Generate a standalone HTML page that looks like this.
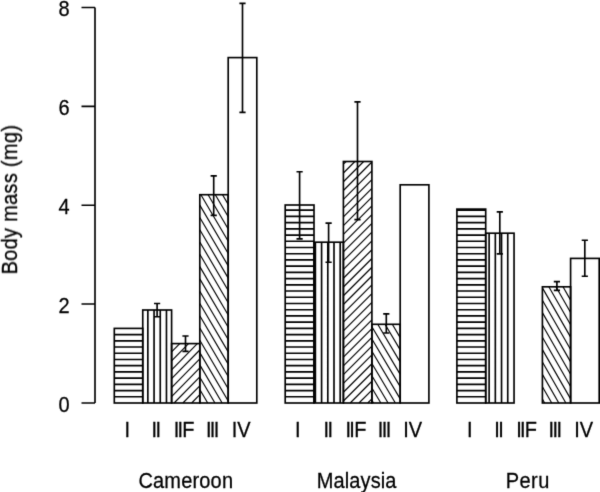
<!DOCTYPE html><html><head><meta charset="utf-8"><style>html,body{margin:0;padding:0;background:#fff;}svg{display:block;filter:grayscale(1);}text{font-family:"Liberation Sans",sans-serif;fill:#000;stroke:#000;stroke-width:0.25;}</style></head><body>
<svg width="600" height="492" viewBox="0 0 600 492">
<defs><filter id="bl" x="0" y="0" width="600" height="492" filterUnits="userSpaceOnUse" color-interpolation-filters="sRGB"><feConvolveMatrix order="3" kernelMatrix="0.01134 0.08382 0.01134 0.08382 0.61935 0.08382 0.01134 0.08382 0.01134" edgeMode="duplicate" preserveAlpha="false"/></filter></defs>
<rect width="600" height="492" fill="#fff"/>
<g filter="url(#bl)">
<path d="M114.30 396.78L142.75 396.78M114.30 390.56L142.75 390.56M114.30 384.34L142.75 384.34M114.30 378.12L142.75 378.12M114.30 371.90L142.75 371.90M114.30 365.68L142.75 365.68M114.30 359.46L142.75 359.46M114.30 353.24L142.75 353.24M114.30 347.02L142.75 347.02M114.30 340.80L142.75 340.80M114.30 334.58L142.75 334.58M147.85 310.00L147.85 403.00M154.06 310.00L154.06 403.00M160.26 310.00L160.26 403.00M166.47 310.00L166.47 403.00M285.20 396.78L314.00 396.78M285.20 390.56L314.00 390.56M285.20 384.34L314.00 384.34M285.20 378.12L314.00 378.12M285.20 371.90L314.00 371.90M285.20 365.68L314.00 365.68M285.20 359.46L314.00 359.46M285.20 353.24L314.00 353.24M285.20 347.02L314.00 347.02M285.20 340.80L314.00 340.80M285.20 334.58L314.00 334.58M285.20 328.36L314.00 328.36M285.20 322.14L314.00 322.14M285.20 315.92L314.00 315.92M285.20 309.70L314.00 309.70M285.20 303.48L314.00 303.48M285.20 297.26L314.00 297.26M285.20 291.04L314.00 291.04M285.20 284.82L314.00 284.82M285.20 278.60L314.00 278.60M285.20 272.38L314.00 272.38M285.20 266.16L314.00 266.16M285.20 259.94L314.00 259.94M285.20 253.72L314.00 253.72M285.20 247.50L314.00 247.50M285.20 241.28L314.00 241.28M285.20 235.06L314.00 235.06M285.20 228.84L314.00 228.84M285.20 222.62L314.00 222.62M285.20 216.40L314.00 216.40M285.20 210.18L314.00 210.18M315.38 242.20L315.38 403.00M321.59 242.20L321.59 403.00M327.80 242.20L327.80 403.00M334.00 242.20L334.00 403.00M340.20 242.20L340.20 403.00M456.90 396.78L485.70 396.78M456.90 390.56L485.70 390.56M456.90 384.34L485.70 384.34M456.90 378.12L485.70 378.12M456.90 371.90L485.70 371.90M456.90 365.68L485.70 365.68M456.90 359.46L485.70 359.46M456.90 353.24L485.70 353.24M456.90 347.02L485.70 347.02M456.90 340.80L485.70 340.80M456.90 334.58L485.70 334.58M456.90 328.36L485.70 328.36M456.90 322.14L485.70 322.14M456.90 315.92L485.70 315.92M456.90 309.70L485.70 309.70M456.90 303.48L485.70 303.48M456.90 297.26L485.70 297.26M456.90 291.04L485.70 291.04M456.90 284.82L485.70 284.82M456.90 278.60L485.70 278.60M456.90 272.38L485.70 272.38M456.90 266.16L485.70 266.16M456.90 259.94L485.70 259.94M456.90 253.72L485.70 253.72M456.90 247.50L485.70 247.50M456.90 241.28L485.70 241.28M456.90 235.06L485.70 235.06M456.90 228.84L485.70 228.84M456.90 222.62L485.70 222.62M456.90 216.40L485.70 216.40M456.90 210.18L485.70 210.18M489.12 233.20L489.12 403.00M495.33 233.20L495.33 403.00M501.54 233.20L501.54 403.00M507.74 233.20L507.74 403.00" stroke="#000" stroke-width="1.65" fill="none"/>
<path d="M171.60 351.90L179.76 343.60M171.60 360.84L188.54 343.60M171.60 369.78L197.33 343.60M171.60 378.72L199.80 350.02M171.60 387.66L199.80 358.96M171.60 396.60L199.80 367.90M174.10 403.00L199.80 376.84M182.88 403.00L199.80 385.78M191.67 403.00L199.80 394.72M222.52 194.70L228.20 204.39M215.31 194.70L228.20 216.68M208.10 194.70L228.20 228.97M200.89 194.70L228.20 241.26M199.80 205.14L228.20 253.55M199.80 217.43L228.20 265.84M199.80 229.72L228.20 278.13M199.80 242.01L228.20 290.42M199.80 254.30L228.20 302.71M199.80 266.59L228.20 315.00M199.80 278.88L228.20 327.29M199.80 291.17L228.20 339.58M199.80 303.46L228.20 351.87M199.80 315.75L228.20 364.16M199.80 328.04L228.20 376.45M199.80 340.33L228.20 388.74M199.80 352.62L228.20 401.03M199.80 364.91L222.15 403.00M199.80 377.20L214.94 403.00M199.80 389.49L207.73 403.00M199.80 401.78L200.52 403.00M343.40 164.21L346.11 161.50M343.40 172.98L354.88 161.50M343.40 181.75L363.65 161.50M343.40 190.52L371.90 162.02M343.40 199.29L371.90 170.79M343.40 208.06L371.90 179.56M343.40 216.83L371.90 188.33M343.40 225.60L371.90 197.10M343.40 234.37L371.90 205.87M343.40 243.14L371.90 214.64M343.40 251.91L371.90 223.41M343.40 260.68L371.90 232.18M343.40 269.45L371.90 240.95M343.40 278.22L371.90 249.72M343.40 286.99L371.90 258.49M343.40 295.76L371.90 267.26M343.40 304.53L371.90 276.03M343.40 313.30L371.90 284.80M343.40 322.07L371.90 293.57M343.40 330.84L371.90 302.34M343.40 339.61L371.90 311.11M343.40 348.38L371.90 319.88M343.40 357.15L371.90 328.65M343.40 365.92L371.90 337.42M343.40 374.69L371.90 346.19M343.40 383.46L371.90 354.96M343.40 392.23L371.90 363.73M343.40 401.00L371.90 372.50M350.17 403.00L371.90 381.27M358.94 403.00L371.90 390.04M367.71 403.00L371.90 398.81M399.57 324.30L400.20 325.36M392.30 324.30L400.20 337.61M385.02 324.30L400.20 349.86M377.75 324.30L400.20 362.11M371.90 326.70L400.20 374.36M371.90 338.95L400.20 386.61M371.90 351.20L400.20 398.86M371.90 363.45L395.38 403.00M371.90 375.70L388.11 403.00M371.90 387.95L380.84 403.00M371.90 400.20L373.56 403.00M570.06 286.80L570.60 287.74M562.99 286.80L570.60 300.09M555.92 286.80L570.60 312.44M548.84 286.80L570.60 324.79M542.40 287.90L570.60 337.14M542.40 300.25L570.60 349.49M542.40 312.60L570.60 361.84M542.40 324.95L570.60 374.19M542.40 337.30L570.60 386.54M542.40 349.65L570.60 398.89M542.40 362.00L565.88 403.00M542.40 374.35L558.81 403.00M542.40 386.70L551.74 403.00M542.40 399.05L544.66 403.00" stroke="#000" stroke-width="1.15" fill="none"/>
<rect x="114.30" y="328.40" width="28.45" height="74.60" fill="none" stroke="#000" stroke-width="1.65"/>
<rect x="142.75" y="310.00" width="28.85" height="93.00" fill="none" stroke="#000" stroke-width="1.65"/>
<rect x="171.60" y="343.60" width="28.20" height="59.40" fill="none" stroke="#000" stroke-width="1.65"/>
<rect x="199.80" y="194.70" width="28.40" height="208.30" fill="none" stroke="#000" stroke-width="1.65"/>
<rect x="228.20" y="57.60" width="28.60" height="345.40" fill="none" stroke="#000" stroke-width="1.65"/>
<rect x="285.20" y="205.00" width="28.80" height="198.00" fill="none" stroke="#000" stroke-width="1.65"/>
<rect x="314.00" y="242.20" width="29.40" height="160.80" fill="none" stroke="#000" stroke-width="1.65"/>
<rect x="343.40" y="161.50" width="28.50" height="241.50" fill="none" stroke="#000" stroke-width="1.65"/>
<rect x="371.90" y="324.30" width="28.30" height="78.70" fill="none" stroke="#000" stroke-width="1.65"/>
<rect x="400.20" y="184.80" width="28.70" height="218.20" fill="none" stroke="#000" stroke-width="1.65"/>
<rect x="456.90" y="209.10" width="28.80" height="193.90" fill="none" stroke="#000" stroke-width="1.65"/>
<rect x="485.70" y="233.20" width="28.35" height="169.80" fill="none" stroke="#000" stroke-width="1.65"/>
<rect x="542.40" y="286.80" width="28.20" height="116.20" fill="none" stroke="#000" stroke-width="1.65"/>
<rect x="570.60" y="258.40" width="28.60" height="144.60" fill="none" stroke="#000" stroke-width="1.65"/>
<path d="M157.10 303.50L157.10 316.70M154.00 303.50L160.20 303.50M154.00 316.70L160.20 316.70M185.50 336.00L185.50 351.30M182.40 336.00L188.60 336.00M182.40 351.30L188.60 351.30M213.70 175.80L213.70 215.30M210.60 175.80L216.80 175.80M210.60 215.30L216.80 215.30M242.50 3.40L242.50 112.40M239.40 3.40L245.60 3.40M239.40 112.40L245.60 112.40M299.60 171.70L299.60 238.80M296.50 171.70L302.70 171.70M296.50 238.80L302.70 238.80M328.60 223.10L328.60 262.20M325.50 223.10L331.70 223.10M325.50 262.20L331.70 262.20M357.50 101.80L357.50 219.60M354.40 101.80L360.60 101.80M354.40 219.60L360.60 219.60M386.30 313.90L386.30 333.00M383.20 313.90L389.40 313.90M383.20 333.00L389.40 333.00M499.80 211.80L499.80 253.90M496.70 211.80L502.90 211.80M496.70 253.90L502.90 253.90M556.90 281.60L556.90 290.40M553.80 281.60L560.00 281.60M553.80 290.40L560.00 290.40M584.80 240.20L584.80 276.20M581.70 240.20L587.90 240.20M581.70 276.20L587.90 276.20" stroke="#000" stroke-width="1.65" fill="none"/>
<path d="M95 7.5L95 403.0M81.5 403.0L95 403.0M81.5 304.0L95 304.0M81.5 205.2L95 205.2M81.5 106.3L95 106.3M81.5 7.5L95 7.5" stroke="#000" stroke-width="1.65" fill="none"/>
<text transform="translate(69.70 15.60) scale(1 1.13)" font-size="20" text-anchor="end">8</text>
<text transform="translate(69.70 115.00) scale(1 1.13)" font-size="20" text-anchor="end">6</text>
<text transform="translate(69.70 213.60) scale(1 1.13)" font-size="20" text-anchor="end">4</text>
<text transform="translate(69.70 313.20) scale(1 1.13)" font-size="20" text-anchor="end">2</text>
<text transform="translate(69.70 412.00) scale(1 1.13)" font-size="20" text-anchor="end">0</text>
<text transform="translate(16.90 199.60) rotate(-90) scale(1 1.1)" font-size="20" text-anchor="middle" letter-spacing="0.3">Body mass (mg)</text>
<text transform="translate(127.35 437.00) scale(1 1.1)" font-size="20" text-anchor="middle">I</text>
<text transform="translate(154.40 437.00) scale(1 1.1)" font-size="20" text-anchor="middle">I</text>
<text transform="translate(158.40 437.00) scale(1 1.1)" font-size="20" text-anchor="middle">I</text>
<text transform="translate(176.50 437.00) scale(1 1.1)" font-size="20" text-anchor="middle">I</text>
<text transform="translate(180.25 437.00) scale(1 1.1)" font-size="20" text-anchor="middle">I</text>
<text transform="translate(208.70 437.00) scale(1 1.1)" font-size="20" text-anchor="middle">I</text>
<text transform="translate(212.50 437.00) scale(1 1.1)" font-size="20" text-anchor="middle">I</text>
<text transform="translate(216.60 437.00) scale(1 1.1)" font-size="20" text-anchor="middle">I</text>
<text transform="translate(182.34 437.00) scale(1 1.1)" font-size="20">F</text>
<text transform="translate(231.80 437.00) scale(1 1.1)" font-size="20">IV</text>
<text transform="translate(297.90 437.00) scale(1 1.1)" font-size="20" text-anchor="middle">I</text>
<text transform="translate(326.40 437.00) scale(1 1.1)" font-size="20" text-anchor="middle">I</text>
<text transform="translate(330.40 437.00) scale(1 1.1)" font-size="20" text-anchor="middle">I</text>
<text transform="translate(348.30 437.00) scale(1 1.1)" font-size="20" text-anchor="middle">I</text>
<text transform="translate(352.05 437.00) scale(1 1.1)" font-size="20" text-anchor="middle">I</text>
<text transform="translate(380.60 437.00) scale(1 1.1)" font-size="20" text-anchor="middle">I</text>
<text transform="translate(384.50 437.00) scale(1 1.1)" font-size="20" text-anchor="middle">I</text>
<text transform="translate(388.60 437.00) scale(1 1.1)" font-size="20" text-anchor="middle">I</text>
<text transform="translate(354.14 437.00) scale(1 1.1)" font-size="20">F</text>
<text transform="translate(403.20 437.00) scale(1 1.1)" font-size="20">IV</text>
<text transform="translate(469.90 437.00) scale(1 1.1)" font-size="20" text-anchor="middle">I</text>
<text transform="translate(497.10 437.00) scale(1 1.1)" font-size="20" text-anchor="middle">I</text>
<text transform="translate(501.10 437.00) scale(1 1.1)" font-size="20" text-anchor="middle">I</text>
<text transform="translate(519.00 437.00) scale(1 1.1)" font-size="20" text-anchor="middle">I</text>
<text transform="translate(522.75 437.00) scale(1 1.1)" font-size="20" text-anchor="middle">I</text>
<text transform="translate(551.30 437.00) scale(1 1.1)" font-size="20" text-anchor="middle">I</text>
<text transform="translate(555.20 437.00) scale(1 1.1)" font-size="20" text-anchor="middle">I</text>
<text transform="translate(559.20 437.00) scale(1 1.1)" font-size="20" text-anchor="middle">I</text>
<text transform="translate(524.84 437.00) scale(1 1.1)" font-size="20">F</text>
<text transform="translate(574.20 437.00) scale(1 1.1)" font-size="20">IV</text>
<text transform="translate(185.79 487.60) scale(1 1.1)" font-size="20" text-anchor="middle" letter-spacing="0.18">Cameroon</text>
<text transform="translate(356.65 487.60) scale(1 1.1)" font-size="20" text-anchor="middle" letter-spacing="0.1">Malaysia</text>
<text transform="translate(527.73 487.60) scale(1 1.1)" font-size="20" text-anchor="middle" letter-spacing="0.45">Peru</text>
</g></svg></body></html>
